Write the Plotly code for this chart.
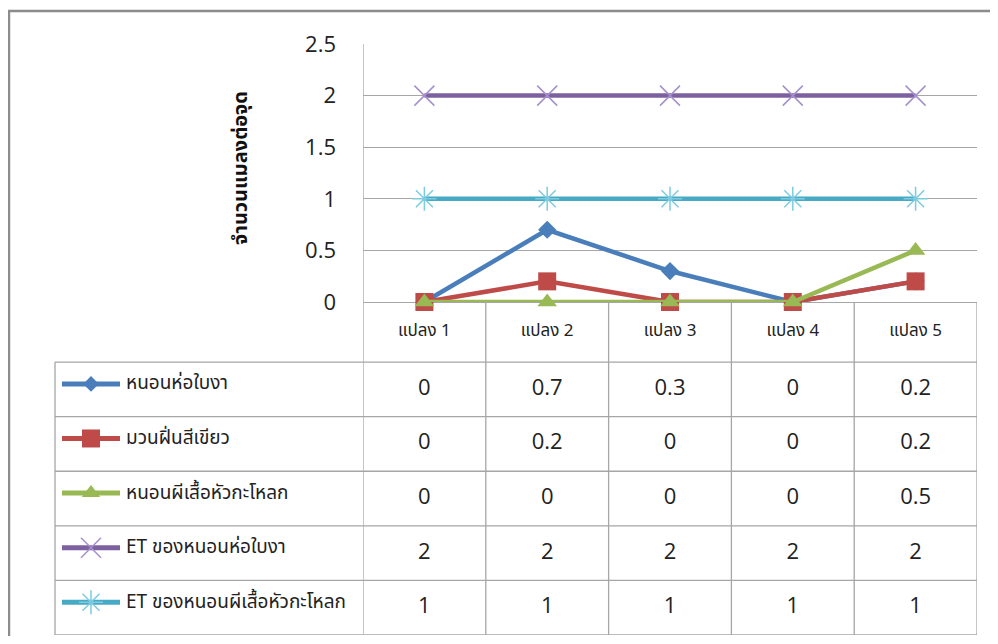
import plotly.graph_objects as go

categories = ["แปลง 1", "แปลง 2", "แปลง 3", "แปลง 4", "แปลง 5"]
series_names = ["หนอนห่อใบงา", "มวนฝิ่นสีเขียว", "หนอนผีเสื้อหัวกะโหลก",
                "ET ของหนอนห่อใบงา", "ET ของหนอนผีเสื้อหัวกะโหลก"]
leaf_roller = [0, 0.7, 0.3, 0, 0.2]
green_bug = [0, 0.2, 0, 0, 0.2]
skull_moth = [0, 0, 0, 0, 0.5]
et_leaf_roller = [2, 2, 2, 2, 2]
et_skull_moth = [1, 1, 1, 1, 1]
y_title = "จำนวนแมลงต่อจุด"

series_values = [leaf_roller, green_bug, skull_moth, et_leaf_roller, et_skull_moth]
colors = ["#4A7EBB", "#BE4B48", "#98B954", "#7D60A0", "#46AAC5"]
marker_colors = ["#4A7EBB", "#BE4B48", "#98B954", "#A58FCB", "#7DCBE0"]
symbols = ["diamond", "square", "triangle-up", "x-thin", "asterisk"]
sizes = [14, 18, 17, 20, 20]

# figure fits inside the 998x644 window with the page's 8px body margin
OFF = 8
W, H = 998 - 2 * OFF, 644 - 2 * OFF


def px(x):
    return (x - OFF) / W


def py(y):
    return 1 - (y - OFF) / H


NUM_FONT = "'Open Sans', 'Noto Sans', sans-serif"
THAI_FONT = "'Noto Sans Thai', 'Noto Sans', sans-serif"
GRID = "#A6A6A6"

fig = go.Figure()

# chart lines
for name, vals, c, mc, s, sz in zip(series_names, series_values, colors, marker_colors, symbols, sizes):
    thin = s in ("x-thin", "asterisk")
    fig.add_trace(go.Scatter(
        x=categories, y=vals, name=name, mode="lines+markers",
        line=dict(color=c, width=4.5),
        marker=dict(symbol=s + ("-open" if s == "asterisk" else ""), size=sz, color=mc, opacity=1,
                    line=dict(color=mc, width=1.5 if thin else 0)),
        cliponaxis=False, showlegend=False, hoverinfo="x+y+name"))

# table: header labels
fig.add_trace(go.Scatter(
    x=categories, y=[-1.05] * len(categories), mode="text", text=categories,
    textfont=dict(family=THAI_FONT, size=17, color="#222"),
    xaxis="x", yaxis="y2", showlegend=False, hoverinfo="skip", cliponaxis=False))

# table: values
for i, vals in enumerate(series_values):
    fig.add_trace(go.Scatter(
        x=categories, y=[i] * len(vals), mode="text",
        text=[f"{v:g}" for v in vals],
        textfont=dict(family=NUM_FONT, size=22, color="#222"),
        xaxis="x", yaxis="y2", showlegend=False, hoverinfo="skip", cliponaxis=False))

# table: legend keys (x in window pixels), slightly above row centre
KEY_DY = -0.1
for i, (c, mc, s, sz) in enumerate(zip(colors, marker_colors, symbols, sizes)):
    thin = s in ("x-thin", "asterisk")
    ksz = {"diamond": 12, "square": 18, "triangle-up": 16}.get(s, sz)
    fig.add_trace(go.Scatter(
        x=[62, 91, 120], y=[i + KEY_DY] * 3, mode="lines+markers",
        line=dict(color=c, width=5),
        marker=dict(symbol=s + ("-open" if s == "asterisk" else ""),
                    size=[0, ksz, 0], color=mc, opacity=1,
                    line=dict(color=mc, width=1.5 if thin else 0)),
        xaxis="x3", yaxis="y2", showlegend=False, hoverinfo="skip", cliponaxis=False))

annotations = []
for i, name in enumerate(series_names):
    annotations.append(dict(
        x=124, y=i + KEY_DY, xref="x3", yref="y2", text=name, showarrow=False,
        xanchor="left", yanchor="middle",
        font=dict(family=THAI_FONT, size=19, color="#222")))

annotations.append(dict(
    x=px(241), y=py(168), xref="paper", yref="paper", text="<b>" + y_title + "</b>",
    textangle=-90, showarrow=False, xanchor="center", yanchor="middle",
    font=dict(family=THAI_FONT, size=20, color="#111")))

shapes = []
line_style = dict(color=GRID, width=1.3)
n = len(categories)
for k in range(n + 1):
    yb = k - 0.5
    shapes.append(dict(type="line", xref="x3", yref="y2", x0=55, x1=977, y0=yb, y1=yb, line=line_style))
for k in range(1, n + 1):
    xb = k - 0.5
    shapes.append(dict(type="line", xref="x", yref="y2", x0=xb, x1=xb, y0=-1.6, y1=4.5, line=line_style))
shapes.append(dict(type="line", xref="x", yref="paper", x0=-0.5, x1=-0.5,
                   y0=py(635), y1=py(44), line=line_style))
shapes.append(dict(type="line", xref="x3", yref="y2", x0=55, x1=55, y0=-0.5, y1=4.5, line=line_style))
shapes.append(dict(type="line", xref="paper", yref="paper", x0=0, x1=1, y0=py(11), y1=py(11),
                   line=dict(color="#8C8C8C", width=2.5)))
shapes.append(dict(type="line", xref="paper", yref="paper", x0=0.001, x1=0.001, y0=0, y1=py(11),
                   line=dict(color="#8C8C8C", width=2.5)))

fig.update_layout(
    width=W, height=H, margin=dict(l=0, r=0, t=0, b=0, autoexpand=False),
    paper_bgcolor="white", plot_bgcolor="rgba(0,0,0,0)",
    xaxis=dict(type="category", categoryarray=categories, categoryorder="array",
               domain=[px(363), px(977)], range=[-0.5, n - 0.5],
               showgrid=False, zeroline=False, showticklabels=False, showline=False, ticks=""),
    yaxis=dict(domain=[py(302), py(44)], range=[0, 2.5], dtick=0.5,
               showgrid=True, gridcolor=GRID, gridwidth=1.3, zeroline=True, zerolinecolor=GRID,
               zerolinewidth=1.3, showline=False, ticks="", ticklabelstandoff=26,
               tickfont=dict(family=NUM_FONT, size=22, color="#222")),
    yaxis2=dict(domain=[py(635), py(302)], range=[4.5, -1.6], visible=False,
                anchor="x", fixedrange=True),
    xaxis3=dict(domain=[0, 1], range=[OFF, OFF + W], visible=False, anchor="y2", fixedrange=True),
    shapes=shapes, annotations=annotations,
)

fig.write_html("out.html")
